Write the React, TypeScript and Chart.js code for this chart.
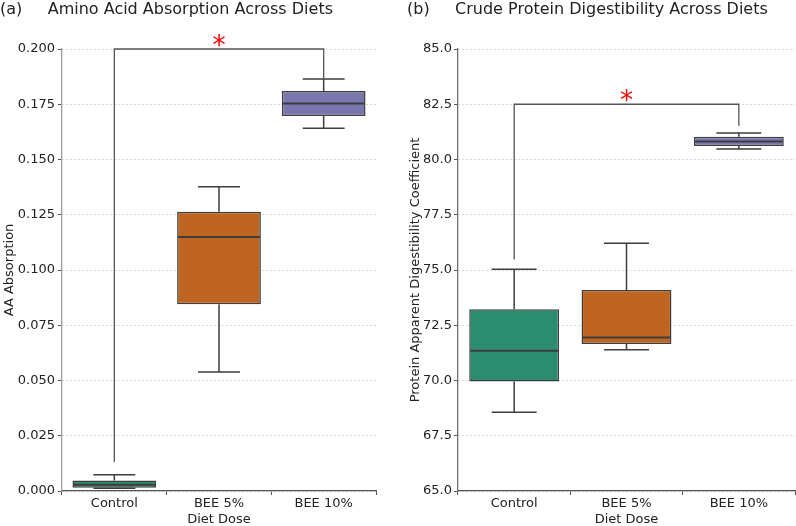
import React, { useEffect, useRef } from 'react';
import { Chart, registerables } from 'chart.js';

Chart.register(...registerables);

// ---------- data ----------
const categories = ['Control', 'BEE 5%', 'BEE 10%'];
const boxColors = ['#2b8c6f', '#bf6421', '#7a76ae'];

// (a) Amino acid absorption
const aaWhiskerLow = [0.0012, 0.0538, 0.1641];
const aaQ1 = [0.0015, 0.0845, 0.1697];
const aaMedian = [0.0028, 0.1149, 0.1753];
const aaQ3 = [0.0048, 0.1264, 0.181];
const aaWhiskerHigh = [0.0074, 0.1377, 0.1864];
const aaBracket = [0.0131, 0.2, 0.1866]; // left leg end, bar level, right leg end
const aaTicks = { min: 0, max: 0.2, step: 0.025, decimals: 3 };

// (b) Crude protein digestibility
const cpWhiskerLow = [68.56, 71.39, 80.47];
const cpQ1 = [69.95, 71.65, 80.61];
const cpMedian = [71.35, 71.95, 80.82];
const cpQ3 = [73.22, 74.1, 81.03];
const cpWhiskerHigh = [75.03, 76.21, 81.2];
const cpBracket = [75.48, 82.5, 81.53];
const cpTicks = { min: 65, max: 85, step: 2.5, decimals: 1 };

const FONT = 'DejaVu Sans';
const EDGE = '#3d3d3d';
const TEXT = '#222222';

type Spec = {
  left: number;
  width: number;
  height: number;
  yWidth: number;
  padRight: number;
  title: string;
  yTitle: string;
  yTitlePad: number;
  yBorder: string;
  tickPad: number;
  low: number[];
  q1: number[];
  med: number[];
  q3: number[];
  high: number[];
  bracket: number[];
  ticks: { min: number; max: number; step: number; decimals: number };
};

function makeExtras(spec: Spec) {
  return {
    id: 'boxExtras',
    afterDatasetsDraw(chart: any) {
      const { ctx } = chart;
      const x = chart.scales.x;
      const y = chart.scales.y;
      ctx.save();
      ctx.strokeStyle = EDGE;
      ctx.lineWidth = 1.5;
      ctx.lineCap = 'butt';
      categories.forEach((_, i) => {
        const cx = x.getPixelForValue(i);
        const capL = x.getPixelForValue(i - 0.2);
        const capR = x.getPixelForValue(i + 0.2);
        const boxL = x.getPixelForValue(i - 0.4);
        const boxR = x.getPixelForValue(i + 0.4);
        const yLow = y.getPixelForValue(spec.low[i]);
        const yHigh = y.getPixelForValue(spec.high[i]);
        const yQ1 = y.getPixelForValue(spec.q1[i]);
        const yQ3 = y.getPixelForValue(spec.q3[i]);
        const yMed = y.getPixelForValue(spec.med[i]);
        ctx.beginPath();
        // whiskers
        ctx.moveTo(cx, yQ3);
        ctx.lineTo(cx, yHigh);
        ctx.moveTo(cx, yQ1);
        ctx.lineTo(cx, yLow);
        // caps
        ctx.moveTo(capL, yHigh);
        ctx.lineTo(capR, yHigh);
        ctx.moveTo(capL, yLow);
        ctx.lineTo(capR, yLow);
        ctx.stroke();
        // median
        ctx.beginPath();
        ctx.lineWidth = 2;
        ctx.moveTo(boxL + 1, yMed);
        ctx.lineTo(boxR - 1, yMed);
        ctx.stroke();
        ctx.lineWidth = 1.5;
      });
      // significance bracket
      const x0 = x.getPixelForValue(0);
      const x2 = x.getPixelForValue(2);
      const yb = y.getPixelForValue(spec.bracket[1]);
      ctx.strokeStyle = '#555555';
      ctx.lineWidth = 1.3;
      ctx.beginPath();
      ctx.moveTo(x0, y.getPixelForValue(spec.bracket[0]));
      ctx.lineTo(x0, yb);
      ctx.lineTo(x2, yb);
      ctx.lineTo(x2, y.getPixelForValue(spec.bracket[2]));
      ctx.stroke();
      // star
      ctx.font = `40px ${FONT}`;
      const m0 = ctx.measureText('*');
      const ink0 = m0.actualBoundingBoxAscent + m0.actualBoundingBoxDescent;
      const size = ink0 > 0 ? (40 * 12.5) / ink0 : 24;
      ctx.font = `${size}px ${FONT}`;
      const m = ctx.measureText('*');
      const asc = m.actualBoundingBoxAscent;
      const desc = m.actualBoundingBoxDescent;
      const yc = yb - 9;
      ctx.fillStyle = '#ff0000';
      ctx.textAlign = 'center';
      ctx.textBaseline = 'alphabetic';
      ctx.fillText('*', (x0 + x2) / 2, yc + (asc - desc) / 2);
      ctx.restore();
    },
  };
}

function BoxChart({ spec }: { spec: Spec }) {
  const ref = useRef<HTMLCanvasElement>(null);
  useEffect(() => {
    if (!ref.current) return;
    const chart = new Chart(ref.current, {
      type: 'bar',
      data: {
        labels: categories,
        datasets: [
          {
            data: categories.map((_, i) => [spec.q1[i], spec.q3[i]]) as any,
            backgroundColor: boxColors,
            borderColor: EDGE,
            borderWidth: 1.5,
            borderSkipped: false,
            barPercentage: 0.8,
            categoryPercentage: 1,
          },
        ],
      },
      options: {
        responsive: false,
        animation: false,
        events: [],
        layout: { padding: { left: 0, right: spec.padRight, top: 0, bottom: 0 } },
        plugins: {
          legend: { display: false },
          tooltip: { enabled: false },
          title: {
            display: true,
            text: spec.title,
            align: 'start',
            color: TEXT,
            font: { family: FONT, size: 16, weight: 'normal', lineHeight: 1 },
            padding: { top: 2, bottom: 31 },
          },
        },
        scales: {
          x: {
            type: 'category',
            offset: true,
            grid: {
              drawOnChartArea: false,
              drawTicks: true,
              tickLength: 4,
              tickColor: '#555555',
              tickWidth: 1,
            },
            border: { display: true, color: '#555555', width: 1.3 },
            ticks: { color: TEXT, padding: 1, font: { family: FONT, size: 13 } },
            title: {
              display: true,
              text: 'Diet Dose',
              color: TEXT,
              font: { family: FONT, size: 13, lineHeight: 1 },
              padding: { top: 0, bottom: 0 },
            },
            afterFit: (s: any) => {
              s.height = 35;
            },
          },
          y: {
            type: 'linear',
            min: spec.ticks.min,
            max: spec.ticks.max,
            grid: {
              color: '#cccccc',
              lineWidth: 0.8,
              drawTicks: true,
              tickLength: 4,
              tickColor: '#555555',
              tickWidth: 1,
              tickBorderDash: [],
            },
            border: { display: true, color: spec.yBorder, width: 1.3, dash: [2, 2] },
            ticks: {
              stepSize: spec.ticks.step,
              color: TEXT,
              padding: spec.tickPad,
              font: { family: FONT, size: 13 },
              callback: (v: any) => Number(v).toFixed(spec.ticks.decimals),
            },
            title: {
              display: true,
              text: spec.yTitle,
              color: TEXT,
              font: { family: FONT, size: 13, lineHeight: 1 },
              padding: { top: spec.yTitlePad, bottom: 0 },
            },
            afterFit: (s: any) => {
              s.width = spec.yWidth;
            },
          },
        },
      },
      plugins: [makeExtras(spec)],
    } as any);
    return () => chart.destroy();
  }, [spec]);
  return (
    <canvas
      ref={ref}
      width={spec.width}
      height={spec.height}
      style={{ position: 'absolute', left: spec.left, top: 0, width: spec.width, height: spec.height }}
    />
  );
}

const specA: Spec = {
  left: 0,
  width: 398,
  height: 526,
  yWidth: 62,
  padRight: 22,
  title: '(a)     Amino Acid Absorption Across Diets',
  yTitle: 'AA Absorption',
  yTitlePad: 3.5,
  yBorder: '#9e9e9e',
  tickPad: 3,
  low: aaWhiskerLow,
  q1: aaQ1,
  med: aaMedian,
  q3: aaQ3,
  high: aaWhiskerHigh,
  bracket: aaBracket,
  ticks: aaTicks,
};

const specB: Spec = {
  left: 407,
  width: 389,
  height: 526,
  yWidth: 51,
  padRight: 1,
  title: '(b)     Crude Protein Digestibility Across Diets',
  yTitle: 'Protein Apparent Digestibility Coefficient',
  yTitlePad: 2.5,
  yBorder: '#707070',
  tickPad: 2,
  low: cpWhiskerLow,
  q1: cpQ1,
  med: cpMedian,
  q3: cpQ3,
  high: cpWhiskerHigh,
  bracket: cpBracket,
  ticks: cpTicks,
};

export default function App() {
  return (
    <div style={{ position: 'absolute', left: 0, top: 0, width: 796, height: 526, background: '#ffffff', overflow: 'hidden' }}>
      <BoxChart spec={specA} />
      <BoxChart spec={specB} />
    </div>
  );
}
